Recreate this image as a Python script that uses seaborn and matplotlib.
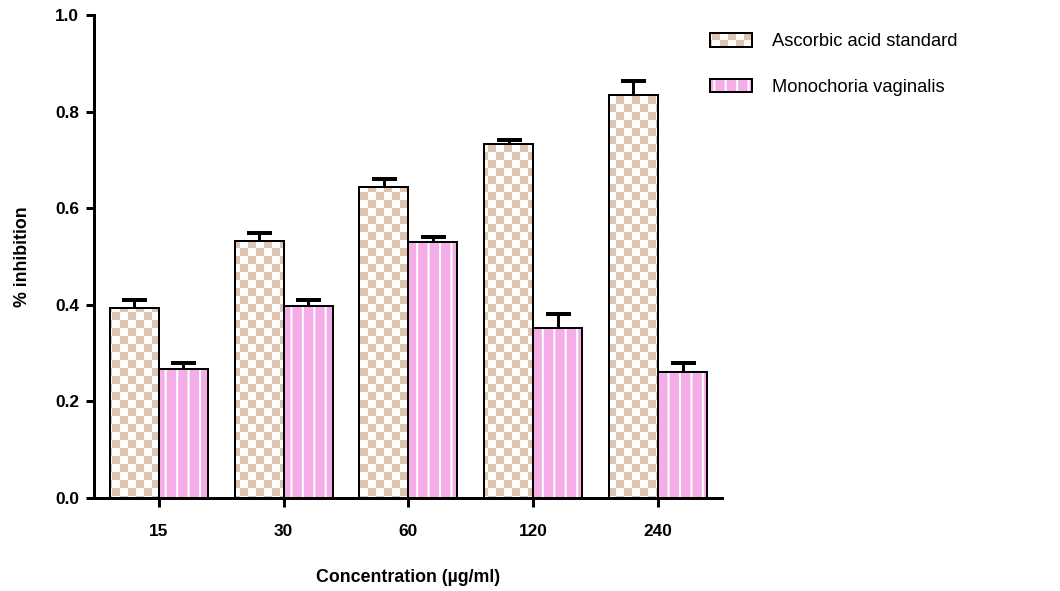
import numpy as np
import pandas as pd
import matplotlib
matplotlib.use("Agg")
import matplotlib.pyplot as plt
import matplotlib.hatch as mhatch
import matplotlib.colors as mcolors
from matplotlib.path import Path
from matplotlib.ticker import FormatStrFormatter
import seaborn as sns

# ---- data -------------------------------------------------------------
concentrations = ["15", "30", "60", "120", "240"]
series_names = ["Ascorbic acid standard", "Monochoria vaginalis"]
ascorbic_mean = [0.393, 0.532, 0.643, 0.733, 0.834]
ascorbic_err = [0.016, 0.017, 0.017, 0.008, 0.029]
monochoria_mean = [0.268, 0.398, 0.529, 0.353, 0.261]
monochoria_err = [0.011, 0.011, 0.011, 0.027, 0.018]

# ---- style --------------------------------------------------------------
BEIGE = "#DFC4AF"
PINK = "#F5ADE8"
DPI = 80
CHECK_CELLS = 10          # checker cells per hatch tile
STRIPES = 7               # white stripes per hatch tile
STRIPE_W = 2.0 / DPI      # stripe width as a fraction of the tile

_SQUARE_CODES = [Path.MOVETO, Path.LINETO, Path.LINETO, Path.LINETO, Path.CLOSEPOLY]


class CheckerFill(mhatch.HatchPatternBase):
    """'.' hatch drawn as a checkerboard of filled squares."""

    def __init__(self, hatch, density):
        self.on = "." in hatch
        self.num_vertices = (CHECK_CELLS * CHECK_CELLS // 2) * 5 if self.on else 0

    def set_vertices_and_codes(self, vertices, codes):
        step = 1.0 / CHECK_CELLS
        square = np.array([[0, 0], [step, 0], [step, step], [0, step], [0, 0]], float)
        parts = [square + [i * step, j * step]
                 for j in range(CHECK_CELLS) for i in range(CHECK_CELLS)
                 if (i + j) % 2 == 0]
        vertices[:] = np.concatenate(parts)
        codes[:] = np.tile(_SQUARE_CODES, len(parts))


class StripeFill(mhatch.HatchPatternBase):
    """'*' hatch drawn as thin filled vertical stripes."""

    def __init__(self, hatch, density):
        self.on = "*" in hatch
        self.num_vertices = STRIPES * 5 if self.on else 0

    def set_vertices_and_codes(self, vertices, codes):
        parts = []
        for i in range(STRIPES):
            xc = (i + 0.5) / STRIPES
            x0, x1 = xc - STRIPE_W / 2, xc + STRIPE_W / 2
            parts.append(np.array([[x0, 0], [x1, 0], [x1, 1], [x0, 1], [x0, 0]], float))
        vertices[:] = np.concatenate(parts)
        codes[:] = np.tile(_SQUARE_CODES, len(parts))


mhatch._hatch_types[:] = [t for t in mhatch._hatch_types
                          if t not in (mhatch.SmallFilledCircles, mhatch.Stars)]
mhatch._hatch_types += [CheckerFill, StripeFill]


def paint_hatch(patch, colour):
    if hasattr(patch, "set_hatchcolor"):
        patch.set_hatchcolor(colour)
    else:
        patch._hatch_color = mcolors.to_rgba(colour)


sns.set_style("ticks")
plt.rcParams["font.family"] = ["Liberation Sans", "DejaVu Sans"]
plt.rcParams["hatch.linewidth"] = 0.05
plt.rcParams["text.color"] = "black"
plt.rcParams["axes.labelcolor"] = "black"

fig = plt.figure(figsize=(1060 / DPI, 591 / DPI), dpi=DPI)
ax = fig.add_axes([94 / 1060, 93 / 591, 628 / 1060, 483 / 591])

df = pd.DataFrame({
    "Concentration": concentrations * 2,
    "Series": np.repeat(series_names, len(concentrations)),
    "Inhibition": ascorbic_mean + monochoria_mean,
})

sns.barplot(data=df, x="Concentration", y="Inhibition", hue="Series",
            order=concentrations, hue_order=series_names,
            palette=["white", PINK], saturation=1, width=0.786,
            edgecolor="black", linewidth=1.8, errorbar=None,
            legend=False, ax=ax)

hatches = [(".", BEIGE), ("*", "white")]
for cont, (hatch, colour) in zip(ax.containers, hatches):
    for patch in cont:
        patch.set_hatch(hatch)
        paint_hatch(patch, colour)

# upper-only error bars on each bar
for cont, err in zip(list(ax.containers), [ascorbic_err, monochoria_err]):
    xs = [p.get_x() + p.get_width() / 2 for p in cont]
    ys = np.array([p.get_height() for p in cont])
    _, caps, _ = ax.errorbar(xs, ys, yerr=[np.zeros(len(err)), err], fmt="none",
                             ecolor="black", elinewidth=2.7, capsize=11.25,
                             capthick=3.6, zorder=3)
    for cap in caps:
        if np.allclose(cap.get_ydata(), ys):
            cap.set_visible(False)

ax.set_xlim(-0.52, 4.513)
ax.set_ylim(0, 1.0)
ax.set_yticks(np.arange(0, 1.01, 0.2))
ax.yaxis.set_major_formatter(FormatStrFormatter("%.1f"))

for side in ("top", "right"):
    ax.spines[side].set_visible(False)
for side in ("left", "bottom"):
    ax.spines[side].set_linewidth(2.7)
    ax.spines[side].set_color("black")

ax.tick_params(axis="y", length=7.2, width=2.7, pad=6, labelsize=15.5, colors="black")
ax.tick_params(axis="x", length=8, width=2.7, pad=15, labelsize=15.5, colors="black")
for lab in ax.get_xticklabels() + ax.get_yticklabels():
    lab.set_fontweight("bold")

ax.set_xlabel("Concentration (µg/ml)", fontsize=16, fontweight="bold", labelpad=27)
ax.set_ylabel("% inhibition", fontsize=16, fontweight="bold", labelpad=22)

handles = [ax.containers[0][0], ax.containers[1][0]]
fig.legend(handles, series_names, loc="upper left",
           bbox_to_anchor=(710 / 1060, 1 - 33 / 591), bbox_transform=fig.transFigure,
           frameon=False, fontsize=16.5, handlelength=2.3, handleheight=0.78,
           handletextpad=1.1, labelspacing=1.55, borderpad=0, borderaxespad=0)

fig.savefig("out.png", dpi=DPI)
